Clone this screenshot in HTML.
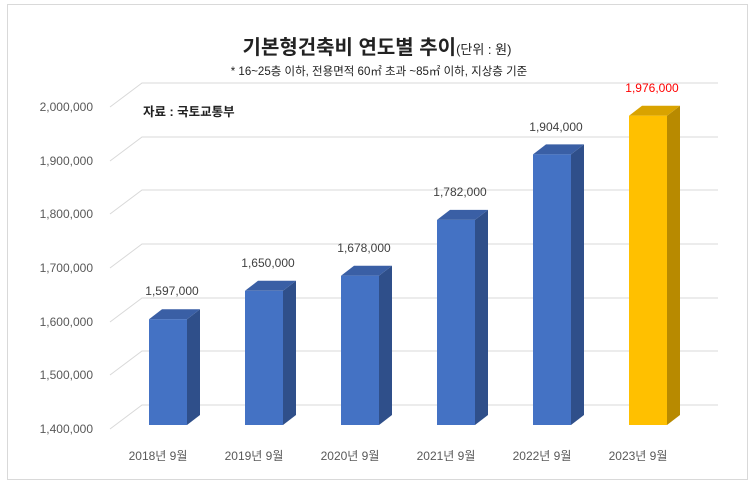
<!DOCTYPE html>
<html><head><meta charset="utf-8"><style>
body{margin:0;background:#fff}
svg text{font-family:"Liberation Sans","Noto Sans CJK KR",sans-serif}
</style></head><body>
<svg width="755" height="487" viewBox="0 0 755 487" xmlns="http://www.w3.org/2000/svg">
<rect x="0" y="0" width="755" height="487" fill="#fff"/>
<rect x="7.5" y="4.5" width="740" height="475" fill="none" stroke="#d9d9d9"/>
<text x="377" y="54" text-anchor="middle" font-size="20" font-weight="bold" fill="#222">기본형건축비 연도별 추이<tspan font-size="13" font-weight="normal">(단위 : 원)</tspan></text>
<text x="379" y="75" text-anchor="middle" font-size="11.5" fill="#222">* 16~25층 이하, 전용면적 60㎡ 초과 ~85㎡ 이하, 지상층 기준</text>
<text x="143" y="116" font-size="12.5" font-weight="bold" fill="#222">자료 : 국토교통부</text>
<g stroke="#d9d9d9" stroke-width="1" fill="none">
<path d="M110 107 L142 83 L718 83"/>
<path d="M110 161 L142 137 L718 137"/>
<path d="M110 214 L142 190 L718 190"/>
<path d="M110 268 L142 244 L718 244"/>
<path d="M110 322 L142 298 L718 298"/>
<path d="M110 375 L142 351 L718 351"/>
<path d="M110 429 L142 405 L718 405"/>
</g>
<g font-size="12" fill="#595959" text-anchor="end">
<text x="93" y="111">2,000,000</text>
<text x="93" y="165">1,900,000</text>
<text x="93" y="218">1,800,000</text>
<text x="93" y="272">1,700,000</text>
<text x="93" y="326">1,600,000</text>
<text x="93" y="379">1,500,000</text>
<text x="93" y="433">1,400,000</text>
</g>
<g>
<polygon points="187,319.2 200,309.2 200,415 187,425" fill="#2F4F8A"/>
<polygon points="149,319.2 162,309.2 200,309.2 187,319.2" fill="#3A5FA5"/>
<rect x="149" y="319.2" width="38" height="105.8" fill="#4472C4"/>

<polygon points="283,290.8 296,280.8 296,415 283,425" fill="#2F4F8A"/>
<polygon points="245,290.8 258,280.8 296,280.8 283,290.8" fill="#3A5FA5"/>
<rect x="245" y="290.8" width="38" height="134.2" fill="#4472C4"/>

<polygon points="379,275.7 392,265.7 392,415 379,425" fill="#2F4F8A"/>
<polygon points="341,275.7 354,265.7 392,265.7 379,275.7" fill="#3A5FA5"/>
<rect x="341" y="275.7" width="38" height="149.3" fill="#4472C4"/>

<polygon points="475,219.9 488,209.9 488,415 475,425" fill="#2F4F8A"/>
<polygon points="437,219.9 450,209.9 488,209.9 475,219.9" fill="#3A5FA5"/>
<rect x="437" y="219.9" width="38" height="205.1" fill="#4472C4"/>

<polygon points="571,154.4 584,144.4 584,415 571,425" fill="#2F4F8A"/>
<polygon points="533,154.4 546,144.4 584,144.4 571,154.4" fill="#3A5FA5"/>
<rect x="533" y="154.4" width="38" height="270.6" fill="#4472C4"/>

<polygon points="667,115.7 680,105.7 680,415 667,425" fill="#B88A00"/>
<polygon points="629,115.7 642,105.7 680,105.7 667,115.7" fill="#D9A300"/>
<rect x="629" y="115.7" width="38" height="309.3" fill="#FFC000"/>
</g>
<g font-size="12" fill="#595959" text-anchor="middle">
<text x="158" y="460">2018년 9월</text>
<text x="254" y="460">2019년 9월</text>
<text x="350" y="460">2020년 9월</text>
<text x="446" y="460">2021년 9월</text>
<text x="542" y="460">2022년 9월</text>
<text x="638" y="460">2023년 9월</text>
</g>
<g font-size="12" text-anchor="middle" fill="#404040">
<text x="172" y="295">1,597,000</text>
<text x="268" y="267">1,650,000</text>
<text x="364" y="252">1,678,000</text>
<text x="460" y="196">1,782,000</text>
<text x="556" y="131">1,904,000</text>
<text x="652" y="92" fill="#ff0000">1,976,000</text>
</g>
</svg>
</body></html>
